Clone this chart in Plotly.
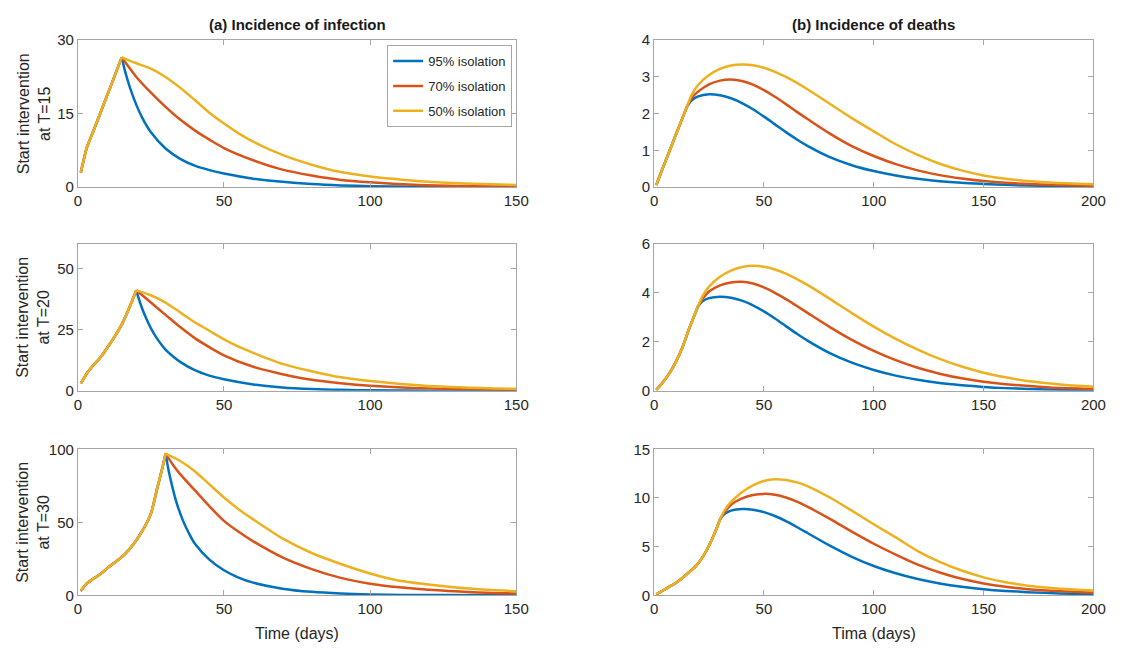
import plotly.graph_objects as go

# ---------------- DATA ----------------
series_names = ["95% isolation", "70% isolation", "50% isolation"]
series_colors = ["#0072BD", "#D95319", "#EDB120"]

# (a) Incidence of infection, intervention at T=15
inf15_pre_t = [1, 3, 5, 8, 10, 12, 15]
inf15_pre = [3, 8, 11, 15.6, 18.7, 21.8, 26.5]
inf15_95_t = [15, 16, 17, 18, 20, 22, 25, 30, 35, 40, 45, 50, 60, 70, 80, 90, 100, 115, 130, 150]
inf15_95 = [26.5, 24, 21.9, 20.0, 16.8, 14.2, 11.2, 7.9, 5.8, 4.4, 3.5, 2.8, 1.75, 1.1, 0.65, 0.38, 0.22, 0.1, 0.05, 0.02]
inf15_70_t = [15, 20, 25, 30, 35, 40, 45, 50, 60, 70, 80, 90, 100, 115, 130, 150]
inf15_70 = [26.5, 22.5, 19.3, 16.4, 13.8, 11.6, 9.7, 8.0, 5.5, 3.6, 2.4, 1.5, 1.0, 0.5, 0.28, 0.15]
inf15_50_t = [15, 20, 25, 30, 35, 40, 45, 50, 55, 60, 70, 80, 90, 100, 110, 120, 135, 150]
inf15_50 = [26.5, 25.3, 24.2, 22.5, 20.3, 17.8, 15.2, 13, 11, 9.3, 6.6, 4.6, 3.1, 2.2, 1.6, 1.1, 0.7, 0.45]

# (a) intervention at T=20
inf20_pre_t = [1, 3, 5, 8, 10, 12, 15, 18, 20]
inf20_pre = [3, 7, 10, 14, 17.5, 21, 27, 35, 41]
inf20_95_t = [20, 21, 22, 23, 25, 27, 30, 33, 35, 40, 45, 50, 60, 70, 80, 90, 100, 120, 150]
inf20_95 = [41, 37, 33.6, 30.6, 25.5, 21.5, 16.8, 13.6, 11.8, 8.4, 6.2, 4.7, 2.6, 1.4, 0.75, 0.4, 0.22, 0.07, 0.02]
inf20_70_t = [20, 25, 30, 35, 40, 45, 50, 60, 70, 80, 90, 100, 120, 150]
inf20_70 = [41, 36, 31, 26, 21.5, 17.8, 14.5, 9.8, 6.8, 4.5, 3.1, 2.1, 1.0, 0.4]
inf20_50_t = [20, 25, 30, 35, 40, 45, 50, 55, 60, 70, 80, 90, 100, 120, 150]
inf20_50 = [41, 39, 36, 32, 28, 24.5, 21, 18, 15.5, 11, 8, 5.5, 4, 2, 0.8]

# (a) intervention at T=30
inf30_pre_t = [1, 3, 5, 8, 10, 13, 16, 19, 22, 25, 27, 28, 29, 30]
inf30_pre = [3, 8, 11, 15, 18.5, 23, 28, 35, 44, 56, 72, 80, 88, 97]
inf30_95_t = [30, 31, 32, 33, 34, 36, 38, 40, 45, 50, 55, 60, 70, 80, 90, 100, 120, 150]
inf30_95 = [97, 86, 77, 69, 62, 51, 42.5, 35.5, 24.5, 17.2, 12.2, 8.7, 4.6, 2.4, 1.25, 0.65, 0.18, 0.04]
inf30_70_t = [30, 33, 35, 40, 45, 50, 55, 60, 70, 80, 90, 100, 110, 120, 135, 150]
inf30_70 = [97, 88, 83, 72, 61, 51, 43.5, 37, 26, 18, 12, 8, 5.5, 3.8, 2.2, 1.3]
inf30_50_t = [30, 35, 40, 45, 50, 55, 60, 70, 80, 90, 100, 110, 120, 135, 150]
inf30_50 = [97, 92, 85, 76, 67, 59, 52, 39, 29, 21.5, 15, 10, 7.5, 4.5, 2.8]

# (b) Incidence of deaths, intervention at T=15
dth15_pre_t = [1, 3, 5, 10, 15]
dth15_pre = [0.06, 0.38, 0.68, 1.45, 2.2]
dth15_95_t = [15, 17, 20, 25, 30, 35, 40, 45, 50, 55, 60, 65, 70, 80, 90, 100, 110, 120, 130, 140, 150, 160, 180, 200]
dth15_95 = [2.2, 2.36, 2.47, 2.53, 2.5, 2.42, 2.29, 2.12, 1.92, 1.71, 1.5, 1.3, 1.12, 0.82, 0.6, 0.44, 0.32, 0.23, 0.165, 0.12, 0.09, 0.065, 0.035, 0.02]
dth15_70_t = [15, 17, 20, 25, 30, 35, 40, 45, 50, 55, 60, 65, 70, 80, 90, 100, 110, 120, 130, 140, 150, 160, 180, 200]
dth15_70 = [2.2, 2.42, 2.6, 2.8, 2.9, 2.93, 2.89, 2.79, 2.64, 2.46, 2.26, 2.05, 1.85, 1.46, 1.12, 0.85, 0.63, 0.46, 0.33, 0.24, 0.17, 0.12, 0.07, 0.04]
dth15_50_t = [15, 17, 20, 25, 30, 35, 40, 45, 50, 55, 60, 65, 70, 80, 90, 100, 110, 120, 130, 140, 150, 160, 180, 200]
dth15_50 = [2.2, 2.5, 2.78, 3.05, 3.22, 3.31, 3.34, 3.32, 3.25, 3.14, 3.0, 2.84, 2.66, 2.27, 1.88, 1.52, 1.17, 0.88, 0.64, 0.46, 0.32, 0.23, 0.13, 0.08]

# (b) intervention at T=20
dth20_pre_t = [1, 4, 7, 10, 13, 16, 18, 20]
dth20_pre = [0.04, 0.35, 0.72, 1.2, 1.8, 2.55, 3.0, 3.45]
dth20_95_t = [20, 22, 25, 30, 35, 40, 45, 50, 55, 60, 65, 70, 80, 90, 100, 110, 120, 130, 140, 150, 160, 180, 200]
dth20_95 = [3.45, 3.65, 3.78, 3.84, 3.8, 3.68, 3.49, 3.24, 2.95, 2.64, 2.33, 2.04, 1.54, 1.15, 0.85, 0.62, 0.45, 0.32, 0.23, 0.16, 0.11, 0.055, 0.03]
dth20_70_t = [20, 22, 25, 30, 35, 40, 45, 50, 55, 60, 65, 70, 80, 90, 100, 110, 120, 130, 140, 150, 160, 180, 200]
dth20_70 = [3.45, 3.75, 4.05, 4.3, 4.42, 4.45, 4.38, 4.22, 4.0, 3.74, 3.46, 3.17, 2.6, 2.08, 1.63, 1.25, 0.94, 0.7, 0.51, 0.37, 0.27, 0.14, 0.08]
dth20_50_t = [20, 22, 25, 30, 35, 40, 45, 50, 55, 60, 65, 70, 80, 90, 100, 110, 120, 130, 140, 150, 160, 170, 185, 200]
dth20_50 = [3.45, 3.85, 4.25, 4.65, 4.9, 5.05, 5.1, 5.06, 4.95, 4.78, 4.56, 4.31, 3.75, 3.17, 2.62, 2.12, 1.68, 1.3, 0.99, 0.74, 0.55, 0.4, 0.26, 0.17]

# (b) intervention at T=30
dth30_pre_t = [1, 4, 7, 10, 13, 16, 19, 22, 25, 27, 29, 30]
dth30_pre = [0.1, 0.5, 0.9, 1.3, 1.8, 2.4, 3.0, 3.9, 5.1, 6.1, 7.2, 7.8]
dth30_95_t = [30, 32, 35, 40, 45, 50, 55, 60, 65, 70, 80, 90, 100, 110, 120, 130, 140, 150, 160, 170, 185, 200]
dth30_95 = [7.8, 8.35, 8.7, 8.87, 8.8, 8.55, 8.15, 7.62, 7.02, 6.38, 5.1, 3.96, 3.02, 2.27, 1.68, 1.23, 0.89, 0.64, 0.46, 0.33, 0.2, 0.12]
dth30_70_t = [30, 32, 35, 40, 45, 50, 55, 60, 65, 70, 80, 90, 100, 110, 120, 130, 140, 150, 160, 170, 185, 200]
dth30_70 = [7.8, 8.5, 9.3, 9.95, 10.3, 10.42, 10.33, 10.05, 9.62, 9.08, 7.85, 6.55, 5.3, 4.18, 3.15, 2.35, 1.7, 1.22, 0.88, 0.64, 0.42, 0.28]
dth30_50_t = [30, 32, 35, 40, 45, 50, 55, 60, 65, 70, 80, 90, 100, 110, 120, 130, 140, 150, 160, 170, 185, 200]
dth30_50 = [7.8, 8.7, 9.6, 10.6, 11.3, 11.75, 11.92, 11.85, 11.6, 11.2, 10.05, 8.7, 7.3, 5.95, 4.55, 3.45, 2.55, 1.85, 1.35, 1.0, 0.68, 0.5]

row_labels = ["Start intervention<br>at T=15", "Start intervention<br>at T=20", "Start intervention<br>at T=30"]
col_titles = ["(a) Incidence of infection", "(b) Incidence of deaths"]
x_titles = ["Time (days)", "Tima (days)"]

left_yticks = [[0, 15, 30], [0, 25, 50], [0, 50, 100]]
left_yranges = [[0, 30], [0, 60], [0, 100]]
right_yticks = [[0, 1, 2, 3, 4], [0, 2, 4, 6], [0, 5, 10, 15]]
right_yranges = [[0, 4], [0, 6], [0, 15]]
left_xticks = [0, 50, 100, 150]
right_xticks = [0, 50, 100, 150, 200]

panels = [
    (0, 0, inf15_pre_t, inf15_pre, [(inf15_95_t, inf15_95), (inf15_70_t, inf15_70), (inf15_50_t, inf15_50)]),
    (1, 0, inf20_pre_t, inf20_pre, [(inf20_95_t, inf20_95), (inf20_70_t, inf20_70), (inf20_50_t, inf20_50)]),
    (2, 0, inf30_pre_t, inf30_pre, [(inf30_95_t, inf30_95), (inf30_70_t, inf30_70), (inf30_50_t, inf30_50)]),
    (0, 1, dth15_pre_t, dth15_pre, [(dth15_95_t, dth15_95), (dth15_70_t, dth15_70), (dth15_50_t, dth15_50)]),
    (1, 1, dth20_pre_t, dth20_pre, [(dth20_95_t, dth20_95), (dth20_70_t, dth20_70), (dth20_50_t, dth20_50)]),
    (2, 1, dth30_pre_t, dth30_pre, [(dth30_95_t, dth30_95), (dth30_70_t, dth30_70), (dth30_50_t, dth30_50)]),
]

# ---------------- LAYOUT ----------------
W, H = 1136, 655
col_px = [(75, 520), (660, 1106)]          # screen pixels
row_px = [(32, 183), (241, 392), (452, 602)]


def fx(px):
    return px / W


def fy(py):
    return 1 - py / H


FONT = "Liberation Sans, Arial, sans-serif"
AX_GRAY = "#a6a6a6"
TXT = "#262626"

fig = go.Figure()
layout = dict(
    width=W, height=H,
    margin=dict(l=0, r=0, t=0, b=0),
    paper_bgcolor="white", plot_bgcolor="white",
    font=dict(family=FONT, color=TXT, size=15),
    showlegend=True,
)

for idx, (r, c, pre_t, pre, series) in enumerate(panels):
    n = idx + 1
    xa = "x" if n == 1 else f"x{n}"
    ya = "y" if n == 1 else f"y{n}"
    for k, (st, sv) in enumerate(series):
        col = series_colors[k]
        fig.add_trace(go.Scatter(
            x=pre_t, y=pre, mode="lines", xaxis=xa, yaxis=ya,
            line=dict(color=col, width=2.5, shape="spline", smoothing=0.6),
            showlegend=False, legendgroup=series_names[k], hoverinfo="skip"))
        fig.add_trace(go.Scatter(
            x=st, y=sv, mode="lines", xaxis=xa, yaxis=ya, name=series_names[k],
            line=dict(color=col, width=2.5, shape="spline", smoothing=0.8),
            showlegend=(n == 1), legendgroup=series_names[k]))
    x0, x1 = col_px[c]
    y0, y1 = row_px[r]
    axis_common = dict(showline=True, mirror="ticks", linecolor=AX_GRAY, linewidth=1,
                       ticks="inside", ticklen=5, tickcolor=AX_GRAY, showgrid=False,
                       zeroline=False, tickfont=dict(size=15, color=TXT, family=FONT))
    xkey = "xaxis" if n == 1 else f"xaxis{n}"
    ykey = "yaxis" if n == 1 else f"yaxis{n}"
    if c == 0:
        xt, xr = left_xticks, [0, 150]
        yt, yr = left_yticks[r], left_yranges[r]
    else:
        xt, xr = right_xticks, [0, 200]
        yt, yr = right_yticks[r], right_yranges[r]
    layout[xkey] = dict(domain=[fx(x0), fx(x1)], range=xr, tickvals=xt, anchor=ya, **axis_common)
    layout[ykey] = dict(domain=[fy(y1), fy(y0)], range=yr, tickvals=yt, anchor=xa, **axis_common)

annotations = []
for c in range(2):
    x0, x1 = col_px[c]
    annotations.append(dict(text="<b>" + col_titles[c] + "</b>", x=fx((x0 + x1) / 2), y=fy(16),
                            xref="paper", yref="paper", showarrow=False,
                            xanchor="center", yanchor="middle",
                            font=dict(size=15, color="#1a1a1a", family=FONT)))
    annotations.append(dict(text=x_titles[c], x=fx((x0 + x1) / 2), y=fy(641),
                            xref="paper", yref="paper", showarrow=False,
                            xanchor="center", yanchor="middle",
                            font=dict(size=16, color=TXT, family=FONT)))
for r in range(3):
    y0, y1 = row_px[r]
    annotations.append(dict(text=row_labels[r], x=fx(30), y=fy((y0 + y1) / 2),
                            xref="paper", yref="paper", showarrow=False, textangle=-90,
                            xanchor="center", yanchor="middle",
                            font=dict(size=16, color=TXT, family=FONT)))
layout["annotations"] = annotations

layout["legend"] = dict(x=fx(389), y=fy(37), xanchor="left", yanchor="top",
                        bgcolor="white", bordercolor=AX_GRAY, borderwidth=1,
                        font=dict(size=13, color=TXT, family=FONT),
                        tracegroupgap=5, itemwidth=30)

fig.update_layout(**layout)
fig.write_html("out.html",
               config={"displayModeBar": False},
               post_script="document.body.style.margin='0px';document.body.style.overflow='hidden';")
